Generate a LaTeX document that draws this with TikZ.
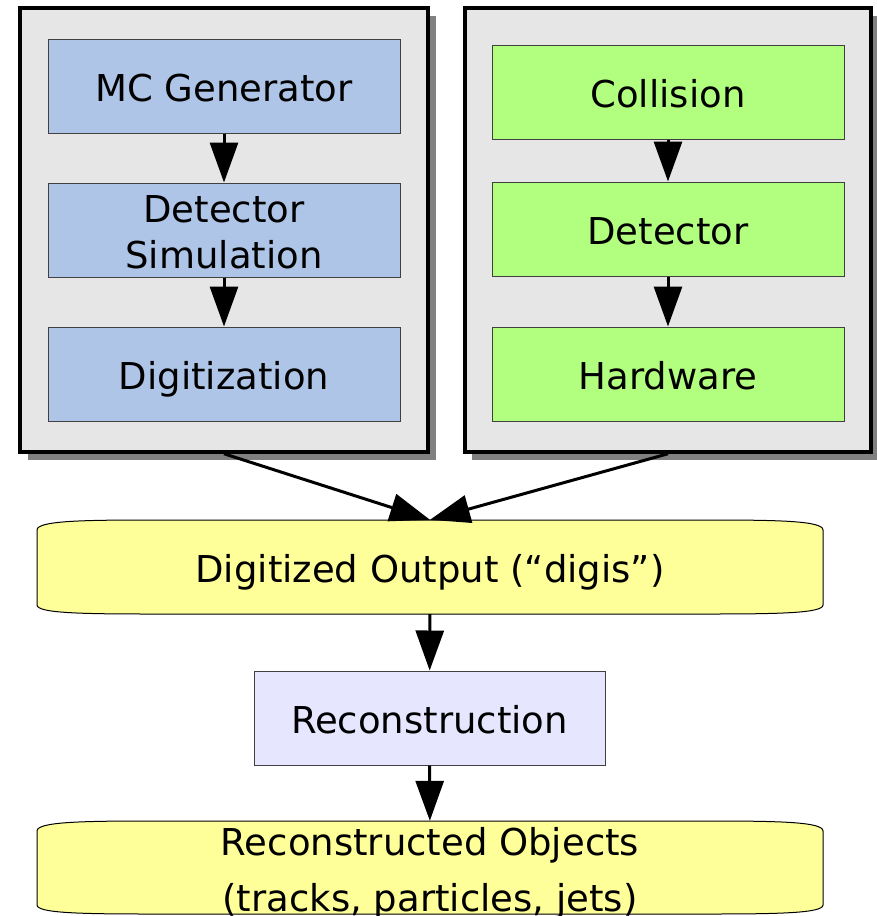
\documentclass[tikz,border=0pt]{standalone}
\usepackage{fontspec}
\setmainfont{DejaVu Sans}
\usetikzlibrary{arrows.meta}
\definecolor{framegray}{HTML}{E6E6E6}
\definecolor{shadowgray}{HTML}{808080}
\definecolor{mcblue}{HTML}{AFC5E8}
\definecolor{datagreen}{HTML}{B2FF80}
\definecolor{outyellow}{HTML}{FFFF99}
\definecolor{reclav}{HTML}{E6E6FF}
\definecolor{boxline}{HTML}{404040}
\tikzset{
  frame/.style={draw=black, line width=3.5pt, fill=framegray, minimum width=408pt, minimum height=444pt, inner sep=0pt},
  stepbox/.style={draw=boxline, line width=1pt, minimum width=352pt, minimum height=94pt, inner sep=0pt, align=center, font=\fontsize{37}{46}\selectfont, text height=31pt, text depth=0pt},
  twoline/.style={text height=76pt, text depth=0pt},
  simbox/.style={stepbox, fill=mcblue},
  realbox/.style={stepbox, fill=datagreen},
  recbox/.style={stepbox, fill=reclav, minimum width=351pt},
  storetext/.style={draw=none, minimum width=786pt, inner sep=0pt, align=center, font=\fontsize{37}{56}\selectfont, text height=31pt, text depth=0pt},
  storeshape/.style={draw=black, line width=1pt, fill=outyellow},
  flow/.style={line width=3pt, -{Triangle[width=28pt,length=40pt]}},
}
\begin{document}
\begin{tikzpicture}[x=1pt,y=-1pt]
\useasboundingbox (0,0) rectangle (877,916);
% shadows
\fill[shadowgray] (28,16) rectangle (436,460);
\fill[shadowgray] (472,16) rectangle (878,460);
% frames
\node[frame] (lf) at (224,230) {};
\node[frame, minimum width=406pt] (rf) at (668,230) {};
% simulation chain
\node[simbox] (mc) at (224,86) {MC Generator};
\node[simbox, twoline] (ds) at (224,230) {Detector\\Simulation};
\node[simbox] (dg) at (224,374) {Digitization};
% real chain
\node[realbox] (co) at (668,92) {Collision};
\node[realbox] (de) at (668,229) {Detector};
\node[realbox] (hw) at (668,374) {Hardware};
\draw[flow] (mc) -- (ds);
\draw[flow] (ds) -- (dg);
\draw[flow] (co) -- (de);
\draw[flow] (de) -- (hw);
% digitized output shape
\path[storeshape] (37,530) .. controls (37,521) and (80,520) .. (150,520) -- (710,520)
  .. controls (780,520) and (823,521) .. (823,530) -- (823,605)
  .. controls (823,613) and (780,614) .. (710,614) -- (150,614)
  .. controls (80,614) and (37,613) .. (37,605) -- cycle;
\node[storetext, minimum height=94pt] (dig) at (430,567) {Digitized Output (“digis”)};
% reconstruction
\node[recbox] (rec) at (429.5,718) {Reconstruction};
% reconstructed objects shape
\path[storeshape] (37,831) .. controls (37,822) and (80,821) .. (150,821) -- (710,821)
  .. controls (780,821) and (823,822) .. (823,831) -- (823,905)
  .. controls (823,913) and (780,914) .. (710,914) -- (150,914)
  .. controls (80,914) and (37,913) .. (37,905) -- cycle;
\node[storetext, minimum height=93pt, text height=87pt] (ro) at (430,867.5) {Reconstructed Objects\\(tracks, particles, jets)};
% connectors
\draw[flow] (lf.south) -- (dig.north);
\draw[flow] (rf.south) -- (dig.north);
\draw[flow] (dig) -- (rec);
\draw[flow] (rec) -- (ro);
\end{tikzpicture}
\end{document}
